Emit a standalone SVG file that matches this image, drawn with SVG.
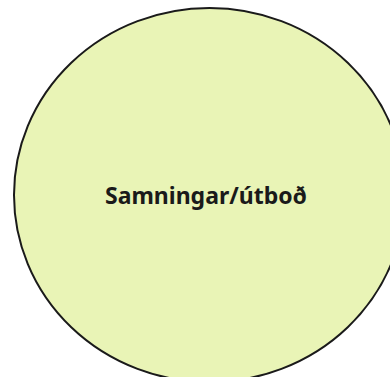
<svg xmlns="http://www.w3.org/2000/svg" width="390" height="377" viewBox="0 0 390 377">
<style>
.node-shape{fill:#e9f4b6;stroke:#1a1a1a;stroke-width:2}
.label{font-family:"Noto Sans","Open Sans",sans-serif;font-weight:bold;font-size:23px;fill:#1a1a1a;text-anchor:middle}
</style>
<rect width="390" height="377" fill="#ffffff"/>
<g id="connectors"></g>
<g id="node-samningar">
<ellipse class="node-shape" cx="209.5" cy="195" rx="195.5" ry="187"/>
<text class="label" x="206" y="204">Samningar/útboð</text>
</g>
</svg>
